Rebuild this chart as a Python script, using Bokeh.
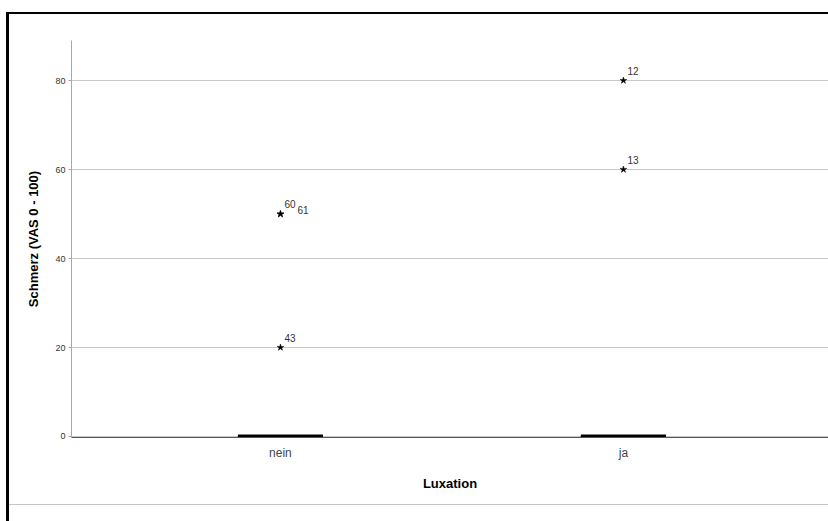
from bokeh.plotting import figure
from bokeh.models import ColumnDataSource, FixedTicker, Range1d
from bokeh.embed import file_html
from bokeh.resources import INLINE

# Pain score (VAS 0-100) by luxation group: box summary and flagged outliers
categories = ["nein", "ja"]
q1 = [0, 0]
median = [0, 0]
q3 = [0, 0]
whisker_low = [0, 0]
whisker_high = [0, 0]

outlier_group = ["nein", "nein", "nein", "ja", "ja"]
outlier_value = [20, 50, 50, 60, 80]
outlier_case = ["43", "60", "61", "13", "12"]

y_ticks = [0, 20, 40, 60, 80]

FONT = "Liberation Sans"

pos = {c: i + 1 for i, c in enumerate(categories)}

# page frame lines (black top/left rule, thin grey rule at the bottom) as
# CSS background layers behind the transparent plot border
page_styles = {
    "background-color": "white",
    "background-image": ("linear-gradient(#000,#000), linear-gradient(#000,#000), "
                         "linear-gradient(#c4c4c4,#c4c4c4)"),
    "background-position": "6px 12px, 6px 12px, 9px 504px",
    "background-size": "822px 2px, 3px 509px, 819px 1px",
    "background-repeat": "no-repeat",
}

p = figure(width=828, height=521, output_backend="svg", toolbar_location=None,
           x_range=Range1d(0.3907, 2.598), y_range=Range1d(-0.225, 88.99),
           min_border_left=71, min_border_right=0, min_border_top=40,
           min_border_bottom=84, styles=page_styles)
p.outline_line_color = None
p.background_fill_color = "white"
p.border_fill_color = None

# grid
p.xgrid.grid_line_color = None
p.ygrid.grid_line_color = "#c8c8c8"
p.ygrid.grid_line_width = 1

# y axis
p.yaxis.ticker = FixedTicker(ticks=y_ticks)
p.yaxis.axis_label = "Schmerz (VAS 0 - 100)"
p.yaxis.axis_label_text_font = FONT
p.yaxis.axis_label_text_font_style = "bold"
p.yaxis.axis_label_text_font_size = "13px"
p.yaxis.axis_label_text_color = "#000000"
p.yaxis.axis_label_standoff = 11
p.yaxis.major_label_text_font = FONT
p.yaxis.major_label_text_font_size = "9px"
p.yaxis.major_label_text_color = "#333333"
p.yaxis.major_label_standoff = 3
p.yaxis.axis_line_color = "#a8a8a8"
p.yaxis.major_tick_line_color = "#a8a8a8"
p.yaxis.major_tick_out = 3
p.yaxis.major_tick_in = 0
p.yaxis.minor_tick_line_color = None

# x axis
p.xaxis.ticker = FixedTicker(ticks=[pos[c] for c in categories])
p.xaxis.major_label_overrides = {pos[c]: c for c in categories}
p.xaxis.axis_label = "Luxation"
p.xaxis.axis_label_text_font = FONT
p.xaxis.axis_label_text_font_style = "bold"
p.xaxis.axis_label_text_font_size = "13px"
p.xaxis.axis_label_text_color = "#000000"
p.xaxis.axis_label_standoff = 13
p.xaxis.major_label_text_font = FONT
p.xaxis.major_label_text_font_size = "12px"
p.xaxis.major_label_text_color = "#444444"
p.xaxis.major_label_standoff = 2
p.xaxis.axis_line_color = "#555555"
p.xaxis.major_tick_line_color = None
p.xaxis.minor_tick_line_color = None

# boxes (collapsed at zero) with a heavy median bar
BOX_W = 0.248
xs = [pos[c] for c in categories]
box_src = ColumnDataSource(dict(
    x=xs, x0=[x - BOX_W / 2 for x in xs], x1=[x + BOX_W / 2 for x in xs],
    q1=q1, q3=q3, med=median, lo=whisker_low, hi=whisker_high))
p.segment(x0="x", y0="lo", x1="x", y1="hi", source=box_src,
          line_color="black", line_width=1)
p.quad(left="x0", right="x1", bottom="q1", top="q3", source=box_src,
       fill_color="#d2d2d2", line_color="black", line_width=1)
p.segment(x0="x0", y0="med", x1="x1", y1="med", source=box_src,
          line_color="black", line_width=4, line_cap="butt")

# outliers as stars with case numbers; repeated values get shifted labels
x_off, y_off = [], []
seen = {}
for g, v in zip(outlier_group, outlier_value):
    k = seen.get((g, v), 0)
    seen[(g, v)] = k + 1
    x_off.append(4 + 13 * k)
    y_off.append(-6 + 6 * k)

out_src = ColumnDataSource(dict(
    x=[pos[g] for g in outlier_group], y=outlier_value, case=outlier_case,
    xo=x_off, yo=y_off))
p.scatter(x="x", y="y", source=out_src, marker="star", size=7,
          fill_color="black", line_color="black", line_width=0.5)
p.text(x="x", y="y", text="case", source=out_src, x_offset="xo", y_offset="yo",
       text_font={"value": FONT}, text_font_size="10px", text_color="#333333",
       text_baseline="bottom", text_align="left")

open("out.html", "w").write(file_html(p, INLINE))
